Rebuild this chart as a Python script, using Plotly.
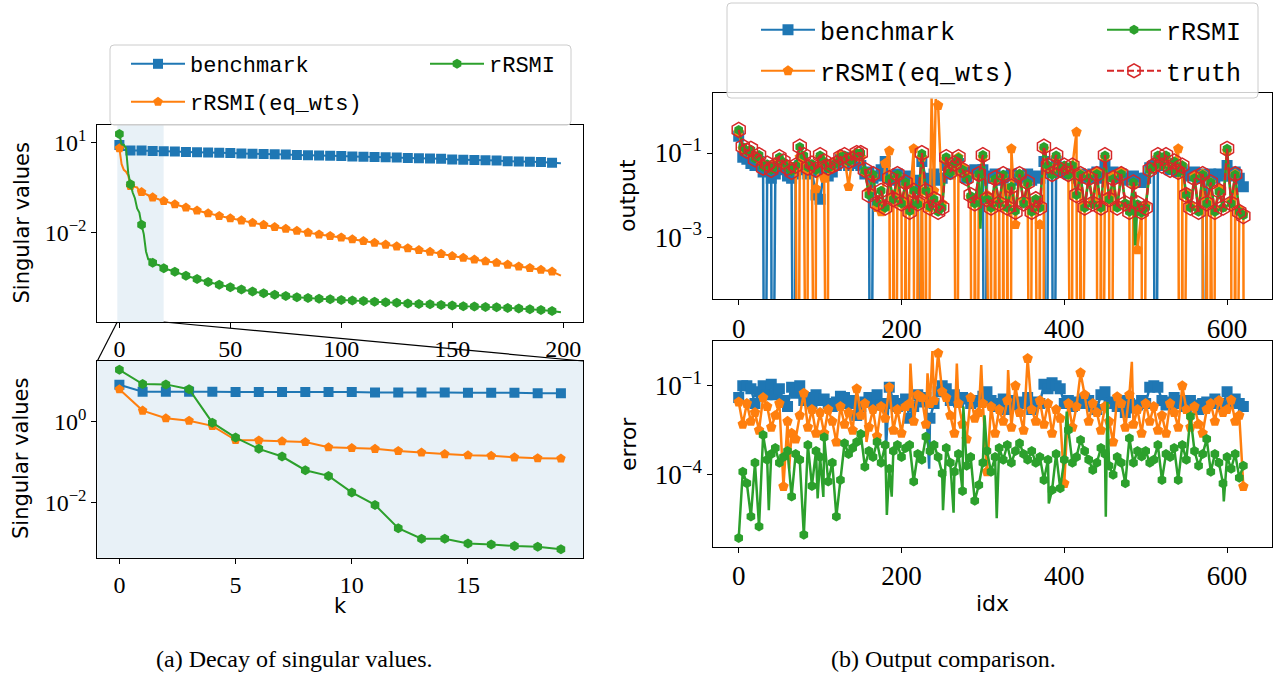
import numpy as np
import plotly.graph_objects as go

W, H = 1278, 676
C0, C1, C2, C3 = "#1f77b4", "#ff7f0e", "#2ca02c", "#d62728"

# ---------------- data: (a) singular values (log10 of values) ----------------
k_fine = list(range(20))                       # k = 0..19 (inset)
k_coarse = list(range(20, 200, 5)) + [199]     # k = 20..195 step 5, 199

bench_sv_fine_exp = [0.92, 0.75, 0.75, 0.75, 0.75, 0.74, 0.74, 0.74, 0.74, 0.74,
                     0.74, 0.73, 0.73, 0.73, 0.73, 0.72, 0.72, 0.72, 0.71, 0.71]
eqwts_sv_fine_exp = [0.81, 0.28, 0.09, 0.03, -0.10, -0.45, -0.46, -0.48, -0.50, -0.63,
                     -0.65, -0.67, -0.72, -0.76, -0.80, -0.83, -0.84, -0.88, -0.90, -0.91]
rrsmi_sv_fine_exp = [1.29, 0.94, 0.93, 0.81, -0.02, -0.39, -0.67, -0.86, -1.20, -1.34,
                     -1.75, -2.06, -2.64, -2.90, -2.90, -3.02, -3.04, -3.08, -3.10, -3.16]

bench_sv_coarse_exp = [0.71, 0.70, 0.69, 0.68, 0.67, 0.66, 0.65, 0.64, 0.63, 0.62, 0.61, 0.60,
                       0.59, 0.58, 0.57, 0.56, 0.55, 0.54, 0.53, 0.52, 0.51, 0.50, 0.49, 0.48,
                       0.47, 0.46, 0.44, 0.43, 0.42, 0.41, 0.40, 0.38, 0.37, 0.36, 0.35, 0.33, 0.31]
eqwts_sv_coarse_exp = [-0.95, -1.06, -1.17, -1.27, -1.36, -1.45, -1.53, -1.60, -1.68, -1.75, -1.82, -1.88,
                       -1.95, -2.01, -2.07, -2.12, -2.17, -2.23, -2.29, -2.35, -2.41, -2.47, -2.53, -2.59,
                       -2.65, -2.72, -2.79, -2.85, -2.91, -2.97, -3.02, -3.08, -3.14, -3.19, -3.25, -3.31, -3.45]
rrsmi_sv_coarse_exp = [-3.20, -3.32, -3.45, -3.56, -3.66, -3.75, -3.84, -3.91, -3.98, -4.04, -4.09, -4.13,
                       -4.17, -4.20, -4.22, -4.24, -4.26, -4.28, -4.30, -4.32, -4.34, -4.36, -4.38, -4.40,
                       -4.41, -4.43, -4.45, -4.47, -4.48, -4.50, -4.51, -4.53, -4.55, -4.57, -4.60, -4.63, -4.67]

# ---------------- data: (b) output / error (log10), sampled every 5 idx ----------------
idx_grid = list(range(0, 625, 5))

truth_out_exp = [
    -0.45, -0.85, -0.95, -0.90, -1.15, -1.05, -1.35, -1.25, -1.40, -1.30,
    -1.10, -1.20, -1.35, -1.45, -1.30, -0.85, -1.05, -1.35, -1.25, -1.40,
    -1.05, -1.20, -1.35, -1.30, -1.25, -1.10, -1.05, -1.20, -1.15, -1.00,
    -1.00, -1.40, -2.00, -1.50, -2.20, -1.90, -2.30, -1.60, -2.10, -1.50,
    -2.20, -1.70, -2.40, -1.90, -2.20, -1.00, -1.90, -2.30, -2.10, -2.40,
    -2.30, -1.10, -1.45, -1.25, -1.10, -1.40, -1.60, -2.00, -2.20, -1.50,
    -1.05, -2.10, -2.30, -1.60, -2.20, -1.50, -2.30, -1.80, -2.40, -1.50,
    -2.20, -1.70, -2.40, -2.10, -2.30, -0.85, -1.30, -1.50, -1.05, -1.40,
    -1.30, -1.50, -1.30, -2.00, -1.50, -2.30, -1.60, -2.20, -1.50, -2.30,
    -1.05, -2.10, -1.60, -2.30, -1.50, -2.20, -2.40, -1.70, -2.20, -2.40,
    -2.30, -1.40, -1.30, -1.05, -1.30, -1.05, -1.40, -1.20, -1.45, -1.30,
    -2.00, -2.30, -1.60, -2.40, -1.50, -2.20, -1.70, -2.40, -1.90, -2.30,
    -0.90, -2.20, -1.50, -2.40, -2.50]

rrsmi_out_exp = [
    -0.45, -0.86, -0.95, -0.92, -1.13, -1.05, -1.33, -1.27, -1.40, -1.31,
    -1.10, -1.22, -1.35, -1.43, -1.30, -0.86, -1.06, -1.34, -1.26, -1.40,
    -1.06, -1.20, -1.36, -1.30, -1.24, -1.10, -1.06, -1.20, -1.15, -1.01,
    -1.00, -1.42, -2.00, -1.52, -2.18, -1.90, -2.30, -1.62, -2.10, -1.52,
    -2.20, -1.70, -2.38, -1.90, -2.22, -1.02, -1.90, -2.28, -2.10, -2.40,
    -2.30, -1.10, -1.46, -1.25, -1.12, -1.40, -1.60, -2.02, -2.20, -1.50,
    -1.05, -2.10, -2.30, -1.62, -2.20, -1.52, -2.30, -1.80, -2.38, -1.50,
    -2.20, -1.72, -2.40, -2.10, -2.30, -0.86, -1.30, -1.52, -1.06, -1.40,
    -1.30, -1.52, -1.30, -2.00, -1.52, -2.30, -1.60, -2.22, -1.50, -2.30,
    -1.06, -2.10, -1.62, -2.30, -1.50, -2.20, -2.40, -1.70, -2.22, -2.42,
    -2.30, -1.40, -1.32, -1.06, -1.30, -1.06, -1.40, -1.20, -1.46, -1.30,
    -2.00, -2.30, -1.60, -2.40, -1.52, -2.20, -1.70, -2.40, -1.92, -2.30,
    -0.90, -2.20, -1.52, -2.40, -2.48]
rrsmi_out_extra_idx = [213, 297, 487]
rrsmi_out_extra_exp = [-2.45, -2.80, -3.20]

bench_out_exp = [
    -0.60, -1.10, -1.15, -1.25, -1.30, -1.20, -1.45, -1.40, -1.60, -1.50,
    -1.35, -1.40, -1.55, -1.60, -1.50, -1.30, -1.40, -1.50, -1.45, -2.00,
    -2.10, -1.40, -1.55, -1.45, -1.30, -1.15, -1.10, -1.30, -1.25, -1.20,
    -1.30, -1.50, -1.45, -1.60, -1.55, -1.40, -1.20, -1.60, -1.65, -1.50,
    -1.60, -1.70, -1.55, -1.65, -1.75, -1.20, -1.60, -1.70, -1.50, -1.65,
    -1.60, -1.30, -1.50, -1.40, -1.25, -1.45, -1.60, -1.45, -1.40, -1.50,
    -1.40, -1.60, -1.55, -1.50, -1.65, -1.60, -1.55, -1.50, -1.65, -1.55,
    -1.60, -1.50, -1.65, -1.55, -1.60, -1.20, -1.40, -1.45, -1.20, -1.45,
    -1.40, -1.50, -1.45, -1.60, -1.50, -1.55, -1.60, -1.50, -1.45, -1.60,
    -1.30, -1.55, -1.45, -1.60, -1.50, -1.60, -1.65, -1.55, -1.60, -1.70,
    -1.60, -1.35, -1.30, -1.20, -1.30, -1.25, -1.40, -1.30, -1.45, -1.40,
    -1.50, -1.55, -1.45, -1.60, -1.50, -1.55, -1.50, -1.60, -1.50, -1.55,
    -1.30, -1.55, -1.45, -1.60, -1.80]
bench_out_neg_idx = [32, 41, 68, 162, 224, 302, 378, 387, 512, 571]   # negative outputs

eqwts_out_exp = [
    -0.50, -0.90, -0.95, -1.00, -1.10, -1.15, -1.30, -1.30, -1.35, -1.25,
    -1.15, -1.25, -1.30, -1.40, -1.35, -1.10, -1.20, -1.40, -1.35, -1.85,
    -1.10, -1.60, -1.30, -1.35, -1.20, -1.05, -1.10, -1.80, -1.05, -1.00,
    -1.10, -1.45, -1.90, -1.55, -2.30, -2.40, -1.25, -0.95, -2.00, -1.55,
    -2.10, -1.75, -2.20, -0.90, -2.20, -1.10, -1.90, -2.30, -1.90, 0.13,
    -2.20, -1.15, -1.40, -1.30, -1.10, -1.35, -1.55, -2.05, -2.10, -1.55,
    -1.10, -2.00, -2.20, -1.65, -2.10, -1.55, -1.85, -0.90, -2.70, -1.50,
    -2.15, -1.75, -2.30, -2.10, -2.70, -0.90, -1.30, -1.45, -1.10, -1.35,
    -1.35, -1.45, -1.30, -0.50, -1.50, -2.25, -1.55, -2.15, -1.45, -2.25,
    -1.10, -2.05, -1.55, -2.25, -1.45, -2.20, -2.35, -1.75, -3.30, -2.35,
    -2.25, -1.40, -1.35, -1.10, -1.30, -1.10, -1.35, -1.25, -0.90, -1.30,
    -1.95, -2.25, -1.55, -2.35, -1.50, -2.15, -1.70, -2.35, -1.85, -2.30,
    -0.95, -2.15, -1.50, -2.35, -2.45]
eqwts_out_extra_idx = [237, 242]
eqwts_out_extra_exp = [0.30, 0.28]
eqwts_out_neg_idx = [73, 84, 94, 109, 187, 189, 193, 201, 203, 207, 216, 218, 222, 229, 231, 233,
                     268, 287, 289, 293, 309, 311, 313, 317, 319, 322, 324, 327, 329, 332, 334,
                     358, 368, 371, 374, 409, 416, 418, 421, 441, 443, 447, 456, 458, 481, 496, 498,
                     542, 544, 546, 571, 573, 577, 579, 584, 606, 608, 611, 621]

bench_err_exp = [
    -1.40, -1.00, -1.00, -1.10, -1.60, -1.20, -1.00, -1.30, -0.95, -1.30,
    -1.10, -1.50, -1.70, -1.05, -1.25, -1.00, -1.50, -1.40, -1.60, -1.30,
    -1.50, -1.45, -1.60, -1.70, -1.55, -1.35, -1.40, -1.60, -1.50, -2.00,
    -1.70, -1.55, -1.40, -1.50, -1.30, -1.65, -1.60, -1.05, -1.50, -1.70,
    -1.60, -1.45, -2.10, -1.70, -1.30, -1.55, -1.40, -2.10, -1.60, -1.20,
    -1.00, -1.10, -1.50, -1.30, -1.55, -1.40, -1.45, -1.60, -1.50, -1.55,
    -1.35, -1.20, -1.50, -1.70, -1.60, -1.45, -1.80, -1.50, -1.65, -1.55,
    -1.60, -1.40, -1.80, -1.55, -1.60, -0.95, -1.10, -0.90, -1.00, -1.10,
    -1.60, -1.50, -1.70, -1.55, -1.60, -1.45, -1.50, -1.70, -1.80, -1.30,
    -1.20, -1.60, -1.55, -1.70, -1.50, -1.90, -1.60, -1.75, -1.65, -1.50,
    -1.60, -1.05, -1.00, -1.05, -1.50, -1.65, -1.55, -1.40, -1.60, -1.50,
    -1.70, -1.50, -1.65, -1.80, -1.60, -1.55, -1.60, -1.45, -1.60, -1.70,
    -1.20, -1.60, -1.45, -1.60, -1.70]
bench_err_extra_idx = [181, 234]
bench_err_extra_exp = [-3.10, -3.80]

eqwts_err_exp = [
    -1.55, -2.30, -1.60, -2.20, -1.90, -2.50, -1.40, -1.70, -2.40, -2.00,
    -1.60, -4.40, -2.20, -2.60, -2.80, -2.00, -1.25, -2.40, -1.80, -2.60,
    -1.90, -2.60, -1.80, -2.20, -2.90, -1.70, -2.30, -1.90, -2.50, -1.10,
    -2.00, -1.60, -2.40, -1.80, -2.70, -1.70, -2.10, -1.05, -2.50, -1.80,
    -2.60, -1.70, -1.60, -2.20, -1.30, -1.40, -2.30, -1.60, -1.50, 0.10,
    -1.20, -1.40, -2.00, -2.60, -1.60, -2.30, -2.80, -1.40, -2.10, -1.90,
    -1.60, -3.90, -1.70, -2.60, -1.80, -2.20, -1.50, -2.40, -1.00, -1.90,
    -2.50, -0.08, -1.80, -2.20, -1.50, -2.30, -1.60, -2.60, -1.80, -2.10,
    -4.30, -1.60, -2.40, -1.70, -0.56, -1.30, -2.20, -1.60, -1.90, -2.50,
    -1.70, -2.20, -2.90, -1.37, -1.60, -2.40, -1.30, -2.30, -1.80, -2.60,
    -1.60, -2.20, -1.70, -2.50, -2.00, -2.60, -1.60, -1.90, -2.40, -1.00,
    -1.80, -2.40, -1.70, -2.30, -2.60, -1.80, -1.60, -2.20, -1.50, -1.90,
    -1.80, -1.48, -2.20, -2.00, -4.40]
eqwts_err_extra_idx = [62, 157, 211, 232, 238, 268, 298, 331, 483]
eqwts_err_extra_exp = [-3.80, -2.90, -0.25, -0.58, 0.17, -0.25, -0.30, -0.47, -0.19]

rrsmi_err_exp = [
    -6.14, -3.90, -4.29, -5.41, -3.60, -5.75, -2.66, -3.50, -3.30, -3.10,
    -3.60, -3.40, -3.20, -4.74, -3.30, -3.50, -6.03, -3.00, -4.38, -3.20,
    -3.40, -2.74, -4.23, -3.60, -5.41, -4.18, -2.94, -3.30, -3.10, -2.90,
    -2.63, -3.73, -3.20, -3.40, -2.90, -3.60, -3.00, -3.80, -3.20, -3.00,
    -3.40, -3.10, -3.00, -4.23, -3.30, -3.50, -2.72, -3.20, -3.00, -3.40,
    -3.96, -3.10, -3.60, -3.90, -3.30, -4.55, -3.70, -3.40, -4.88, -4.35,
    -3.60, -3.20, -3.90, -3.40, -3.10, -3.50, -3.00, -3.60, -3.20, -2.94,
    -3.30, -3.50, -3.20, -3.60, -3.40, -4.18, -3.50, -4.52, -3.30, -4.46,
    -3.50, -2.49, -3.60, -3.40, -2.83, -3.20, -3.50, -3.84, -3.60, -3.10,
    -3.30, -3.70, -4.00, -3.40, -3.60, -4.29, -2.77, -3.60, -3.20, -3.39,
    -3.20, -3.60, -3.50, -3.00, -4.18, -3.30, -3.40, -3.10, -4.18, -3.00,
    -3.50, -2.04, -3.20, -3.70, -3.30, -2.80, -3.90, -3.30, -3.60, -4.30,
    -3.40, -3.80, -3.30, -4.10, -3.70]
rrsmi_err_extra_idx = [37, 97, 104, 182, 188, 251, 264, 276, 302, 317, 381, 403, 451, 453, 596]
rrsmi_err_extra_exp = [-5.20, -4.80, -4.75, -5.36, -4.74, -5.20, -5.28, -1.70, -2.00, -5.47,
                       -4.97, -1.87, -5.42, -1.55, -4.90]

for arr in (truth_out_exp, rrsmi_out_exp, bench_out_exp, eqwts_out_exp,
            bench_err_exp, eqwts_err_exp, rrsmi_err_exp):
    assert len(arr) == len(idx_grid)

# ---------------- layout geometry (pixels) ----------------
def dx(p0, p1):
    return [p0 / W, p1 / W]

def dy(p0, p1):
    return [1 - p1 / H, 1 - p0 / H]

P1 = dict(x=dx(97.3, 583), y=dy(125, 322))
P2 = dict(x=dx(97.3, 583), y=dy(361, 557.7))
P3 = dict(x=dx(713.3, 1272), y=dy(93.3, 299.3))
P4 = dict(x=dx(713.3, 1272), y=dy(341, 547))

R1x, R1y = [-9.95, 208.95], [-5.0, 1.59]
R2x, R2y = [-0.95, 19.95], [-3.37, 1.51]
R3x, R3y = [-31.2, 655.2], [-4.48, 0.42]
R4x, R4y = [-31.2, 655.2], [-6.44, 0.51]

FLOOR = 1e-12  # non-positive outputs are clipped below a log axis (as matplotlib does)

fig = go.Figure()


def pw(e):
    return [10.0 ** v for v in e]


def add_series(xa, ya, xs, ys, mx, my, color, symbol, msize, lw,
               dash=None, open_marker=False, mlw=0):
    fig.add_trace(go.Scatter(
        x=xs, y=ys, mode="lines", xaxis=xa, yaxis=ya, showlegend=False, hoverinfo="skip",
        line=dict(color=color, width=lw, dash=dash, simplify=False)))
    if open_marker:
        marker = dict(symbol=symbol, size=msize, color=color, line=dict(color=color, width=mlw))
    else:
        marker = dict(symbol=symbol, size=msize, color=color, line=dict(width=0))
    fig.add_trace(go.Scatter(
        x=mx, y=my, mode="markers", xaxis=xa, yaxis=ya, showlegend=False, hoverinfo="skip",
        marker=marker, cliponaxis=True))


def merged(grid_vals, extra_idx=(), extra_vals=(), neg_idx=()):
    xs = list(idx_grid) + list(extra_idx) + list(neg_idx)
    ys = list(grid_vals) + list(extra_vals) + [FLOOR] * len(neg_idx)
    order = np.argsort(xs, kind="stable")
    return [xs[i] for i in order], [ys[i] for i in order]


# ---- (a) top: full decay ----
k_top = k_fine + k_coarse
for fine, coarse, col, sym in ((bench_sv_fine_exp, bench_sv_coarse_exp, C0, "square"),
                               (eqwts_sv_fine_exp, eqwts_sv_coarse_exp, C1, "pentagon"),
                               (rrsmi_sv_fine_exp, rrsmi_sv_coarse_exp, C2, "hexagon")):
    vals = pw(fine + coarse)
    mk = [i for i, k in enumerate(k_top) if k % 5 == 0 and k < 199]
    add_series("x", "y", k_top, vals, [k_top[i] for i in mk], [vals[i] for i in mk],
               col, sym, 10, 2)

# ---- (a) bottom: zoom on first 20 ----
for fine, col, sym in ((bench_sv_fine_exp, C0, "square"),
                       (eqwts_sv_fine_exp, C1, "pentagon"),
                       (rrsmi_sv_fine_exp, C2, "hexagon")):
    vals = pw(fine)
    add_series("x2", "y2", k_fine, vals, k_fine, vals, col, sym, 10, 2)

# ---- (b) top: output ----
xs, ys = merged(pw(bench_out_exp), neg_idx=bench_out_neg_idx)
add_series("x3", "y3", xs, ys, idx_grid, pw(bench_out_exp), C0, "square", 11, 2.5)
xs, ys = merged(pw(eqwts_out_exp), eqwts_out_extra_idx, pw(eqwts_out_extra_exp), eqwts_out_neg_idx)
add_series("x3", "y3", xs, ys, idx_grid, pw(eqwts_out_exp), C1, "pentagon", 11, 2.5)
xs, ys = merged(pw(rrsmi_out_exp), rrsmi_out_extra_idx, pw(rrsmi_out_extra_exp))
add_series("x3", "y3", xs, ys, idx_grid, pw(rrsmi_out_exp), C2, "hexagon", 10, 2.5)
add_series("x3", "y3", idx_grid, pw(truth_out_exp), idx_grid, pw(truth_out_exp), C3,
           "hexagon-open", 15, 2.2, dash="7px,3px", open_marker=True, mlw=1.5)

# ---- (b) bottom: error ----
xs, ys = merged(pw(bench_err_exp), bench_err_extra_idx, pw(bench_err_extra_exp))
add_series("x4", "y4", xs, ys, idx_grid, pw(bench_err_exp), C0, "square", 11, 2.5)
xs, ys = merged(pw(eqwts_err_exp), eqwts_err_extra_idx, pw(eqwts_err_extra_exp))
add_series("x4", "y4", xs, ys, idx_grid, pw(eqwts_err_exp), C1, "pentagon", 11, 2.5)
xs, ys = merged(pw(rrsmi_err_exp), rrsmi_err_extra_idx, pw(rrsmi_err_extra_exp))
add_series("x4", "y4", xs, ys, idx_grid, pw(rrsmi_err_exp), C2, "hexagon", 10, 2.5)

# ---------------- legends (one entry per legend, placed like matplotlib's 2-column legend) ----------------
legend_entries = [
    # name, color, symbol, size, dash, open, legend id, x of text (px), y (px), font size
    ("benchmark", C0, "square", 10, None, False, "legend", 190, 64, 22),
    ("rRSMI(eq_wts)", C1, "pentagon", 10, None, False, "legend2", 190, 102, 22),
    ("rRSMI", C2, "hexagon", 10, None, False, "legend3", 489, 64, 22),
    ("benchmark", C0, "square", 11, None, False, "legend4", 820, 30, 25),
    ("rRSMI(eq_wts)", C1, "pentagon", 11, None, False, "legend5", 820, 71, 25),
    ("rRSMI", C2, "hexagon", 10, None, False, "legend6", 1166, 30, 25),
    ("truth", C3, "hexagon-open", 14, "7px,3px", True, "legend7", 1166, 71, 25),
]
ITEMW = 54
legend_layout = {}
for name, col, sym, ms, dash, op, lid, tx, ty, fs in legend_entries:
    mk = dict(symbol=sym, size=ms, color=col,
              line=dict(color=col, width=1.5 if op else 0))
    fig.add_trace(go.Scatter(x=[None], y=[None], mode="lines+markers", name=name,
                             line=dict(color=col, width=2, dash=dash), marker=mk,
                             legend=lid, showlegend=True, xaxis="x", yaxis="y"))
    legend_layout[lid] = dict(
        x=(tx - ITEMW - 10) / W, y=1 - ty / H, xanchor="left", yanchor="middle",
        bgcolor="rgba(0,0,0,0)", borderwidth=0, itemwidth=ITEMW,
        font=dict(family="Liberation Mono, DejaVu Sans Mono, monospace", size=fs, color="black"))


# ---------------- shapes ----------------
def px2paper(xp, yp):
    return xp / W, 1 - yp / H


def rounded_box(x0p, y0p, x1p, y1p, r=4):
    rx, ry = r / W, r / H
    X0, Y1 = px2paper(x0p, y0p)
    X1, Y0 = px2paper(x1p, y1p)
    return (f"M {X0+rx},{Y1} L {X1-rx},{Y1} Q {X1},{Y1} {X1},{Y1-ry} "
            f"L {X1},{Y0+ry} Q {X1},{Y0} {X1-rx},{Y0} L {X0+rx},{Y0} "
            f"Q {X0},{Y0} {X0},{Y0+ry} L {X0},{Y1-ry} Q {X0},{Y1} {X0+rx},{Y1} Z")


def data_to_paper_x(dom, rng, v):
    return dom[0] + (v - rng[0]) / (rng[1] - rng[0]) * (dom[1] - dom[0])


shade = "rgba(31,119,180,0.1)"
shapes = [
    # zoom span in top-left panel
    dict(type="rect", xref="x", yref="y domain", x0=R2x[0], x1=R2x[1], y0=0, y1=1,
         fillcolor=shade, line=dict(width=0), layer="below"),
    # inset background
    dict(type="rect", xref="x2 domain", yref="y2 domain", x0=0, x1=1, y0=0, y1=1,
         fillcolor=shade, line=dict(width=0), layer="below"),
    # connector lines
    dict(type="line", xref="paper", yref="paper",
         x0=data_to_paper_x(P1["x"], R1x, R2x[0]), y0=P1["y"][0], x1=P2["x"][0], y1=P2["y"][1],
         line=dict(color="black", width=1.2), layer="above"),
    dict(type="line", xref="paper", yref="paper",
         x0=data_to_paper_x(P1["x"], R1x, R2x[1]), y0=P1["y"][0], x1=P2["x"][1], y1=P2["y"][1],
         line=dict(color="black", width=1.2), layer="above"),
    # legend frames
    dict(type="path", xref="paper", yref="paper", path=rounded_box(110, 45, 571, 125),
         fillcolor="rgba(255,255,255,0.8)", line=dict(color="#cccccc", width=1), layer="above"),
    dict(type="path", xref="paper", yref="paper", path=rounded_box(727, 3, 1258, 98),
         fillcolor="rgba(255,255,255,0.8)", line=dict(color="#cccccc", width=1), layer="above"),
]

# ---------------- axes ----------------
TICKFONT_L = dict(family="Liberation Serif, DejaVu Serif, serif", size=24, color="black")
TICKFONT_R = dict(family="Liberation Serif, DejaVu Serif, serif", size=27, color="black")


def axis(dom, rng, anchor, tickfont, log=False, tickvals=None, ticktext=None):
    a = dict(domain=dom, range=rng, anchor=anchor, showline=True, linecolor="black",
             linewidth=1, mirror=True, ticks="outside", ticklen=5, tickwidth=1,
             tickcolor="black", showgrid=False, zeroline=False, tickfont=tickfont,
             automargin=False)
    if log:
        a["type"] = "log"
    if tickvals is not None:
        a["tickmode"] = "array"
        a["tickvals"] = tickvals
        a["ticktext"] = ticktext
    return a


layout = dict(
    width=W, height=H, margin=dict(l=0, r=0, t=0, b=0),
    paper_bgcolor="white", plot_bgcolor="white",
    xaxis=axis(P1["x"], R1x, "y", TICKFONT_L, tickvals=[0, 50, 100, 150, 200],
               ticktext=["0", "50", "100", "150", "200"]),
    yaxis=axis(P1["y"], R1y, "x", TICKFONT_L, log=True, tickvals=[10, 0.01],
               ticktext=["10<sup>1</sup>", "10<sup>\u22122</sup>"]),
    xaxis2=axis(P2["x"], R2x, "y2", TICKFONT_L, tickvals=[0, 5, 10, 15],
                ticktext=["0", "5", "10", "15"]),
    yaxis2=axis(P2["y"], R2y, "x2", TICKFONT_L, log=True, tickvals=[1, 0.01],
                ticktext=["10<sup>0</sup>", "10<sup>\u22122</sup>"]),
    xaxis3=axis(P3["x"], R3x, "y3", TICKFONT_R, tickvals=[0, 200, 400, 600],
                ticktext=["0", "200", "400", "600"]),
    yaxis3=axis(P3["y"], R3y, "x3", TICKFONT_R, log=True, tickvals=[0.1, 0.001],
                ticktext=["10<sup>\u22121</sup>", "10<sup>\u22123</sup>"]),
    xaxis4=axis(P4["x"], R4x, "y4", TICKFONT_R, tickvals=[0, 200, 400, 600],
                ticktext=["0", "200", "400", "600"]),
    yaxis4=axis(P4["y"], R4y, "x4", TICKFONT_R, log=True, tickvals=[0.1, 0.0001],
                ticktext=["10<sup>\u22121</sup>", "10<sup>\u22124</sup>"]),
    shapes=shapes,
)
layout.update(legend_layout)

SANS = "DejaVu Sans, sans-serif"
SERIF = "Liberation Serif, DejaVu Serif, serif"
annotations = [
    dict(text="Singular values", x=21 / W, y=1 - 223.5 / H, textangle=-90,
         font=dict(family=SANS, size=21, color="black")),
    dict(text="Singular values", x=21 / W, y=1 - 459 / H, textangle=-90,
         font=dict(family=SANS, size=21, color="black")),
    dict(text="k", x=340 / W, y=1 - 606 / H, font=dict(family=SANS, size=21, color="black")),
    dict(text="output", x=628 / W, y=1 - 196 / H, textangle=-90,
         font=dict(family=SANS, size=22, color="black")),
    dict(text="error", x=628 / W, y=1 - 444 / H, textangle=-90,
         font=dict(family=SANS, size=22, color="black")),
    dict(text="idx", x=992 / W, y=1 - 603 / H, font=dict(family=SANS, size=22, color="black")),
    dict(text="(a) Decay of singular values.", x=294 / W, y=1 - 659 / H,
         font=dict(family=SERIF, size=24, color="black")),
    dict(text="(b) Output comparison.", x=943 / W, y=1 - 659 / H,
         font=dict(family=SERIF, size=24, color="black")),
]
for a in annotations:
    a.update(xref="paper", yref="paper", showarrow=False, xanchor="center", yanchor="middle")
layout["annotations"] = annotations

fig.update_layout(**layout)
# remove the browser's default 8px body margin so the figure sits at the window origin
fig.write_html("out.html", config={"displayModeBar": False},
               post_script="document.body.style.margin='0px';")
